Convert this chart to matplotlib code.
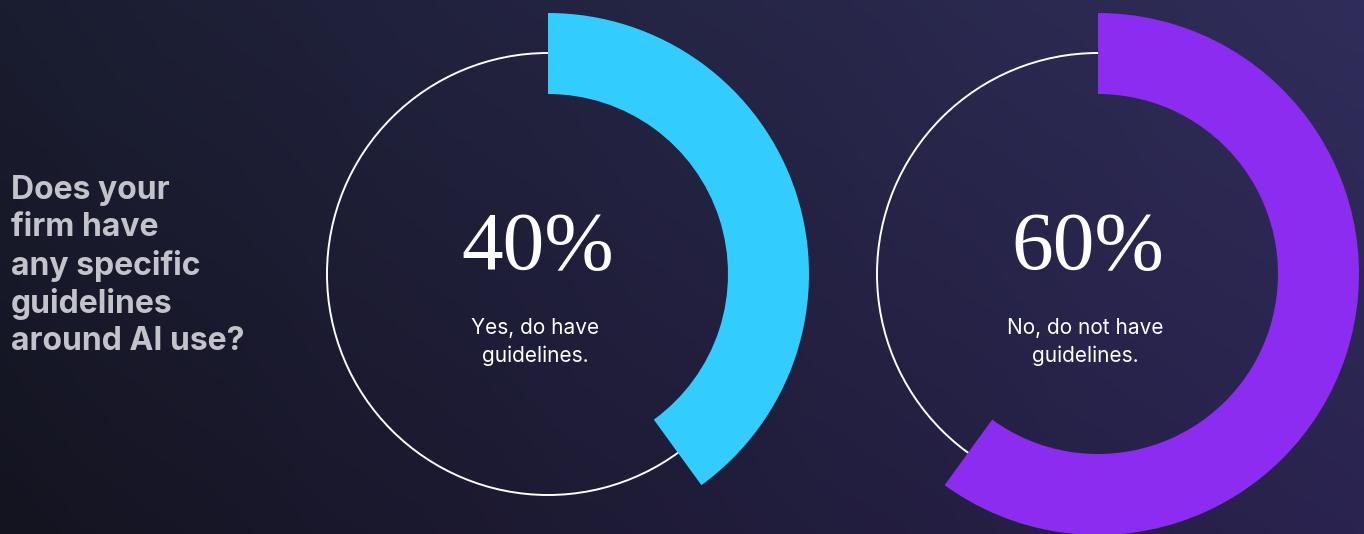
import matplotlib.pyplot as plt
import matplotlib.colors as mcolors
import numpy as np

# survey data
question = "Does your\nfirm have\nany specific\nguidelines\naround AI use?"
labels = ["Yes, do have\nguidelines.", "No, do not have\nguidelines."]
shares = [40, 60]
colors = ["#33ccff", "#8b2cf0"]

W, H = 1364, 534
fig = plt.figure(figsize=(W / 100, H / 100), dpi=100)
ax = fig.add_axes([0, 0, 1, 1])

# background gradient from the four corners
corners = {
    "tl": "#1a1d30", "tr": "#302d5a",
    "bl": "#141420", "br": "#2a2350",
}
c = {k: np.array(mcolors.to_rgb(v)) for k, v in corners.items()}
xs = np.linspace(0, 1, 200)[None, :, None]
ys = np.linspace(0, 1, 80)[:, None, None]  # 0 = bottom, 1 = top
top = c["tl"] * (1 - xs) + c["tr"] * xs
bot = c["bl"] * (1 - xs) + c["br"] * xs
grad = bot * (1 - ys) + top * ys
ax.imshow(grad, extent=[0, W, 0, H], origin="lower", aspect="auto", zorder=0)

centers_x = [548, 1098]
cy = H - 274
ring_r = 221
arc_outer = 261
arc_width = 81

for cx, share, col, lab in zip(centers_x, shares, colors, labels):
    ax.add_patch(plt.Circle((cx, cy), ring_r, fill=False, ec="white", lw=1.4, zorder=1))
    wedges, _ = ax.pie(
        [share, 100 - share],
        colors=[col, "none"],
        startangle=90,
        counterclock=False,
        radius=arc_outer,
        center=(cx, cy),
        wedgeprops=dict(width=arc_width, linewidth=0, zorder=2),
    )
    ax.text(cx - 10, cy + 25, f"{share}%", color="white", fontsize=60,
            family="Liberation Serif", ha="center", va="center", zorder=3)
    ax.text(cx - 13, cy - 68, lab, color="white", fontsize=15,
            family="Inter", ha="center", va="center", linespacing=1.45, zorder=3)

ax.text(11, H - 266, question, color="#c3c3cb", fontsize=23, fontweight="bold",
        family="Inter", ha="left", va="center", linespacing=1.25, zorder=3)

ax.set_xlim(0, W)
ax.set_ylim(0, H)
ax.set_aspect("auto")
ax.axis("off")

fig.savefig("out.png", dpi=100)
